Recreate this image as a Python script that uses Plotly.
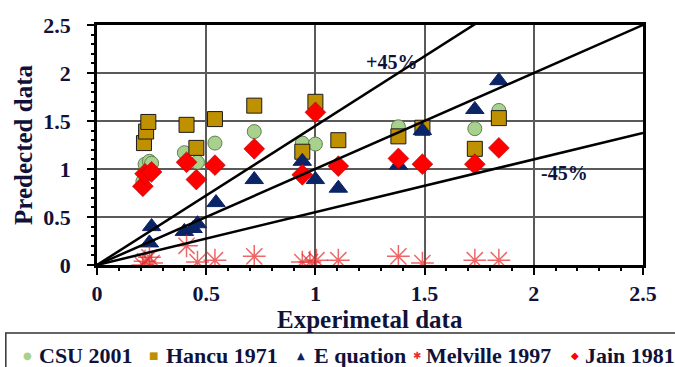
import plotly.graph_objects as go

# Measured (experimental) vs predicted values for each method
csu_x = [0.21, 0.22, 0.24, 0.25, 0.40, 0.46, 0.54, 0.72, 0.94, 1.00, 1.38, 1.73, 1.84]
csu_y = [0.87, 1.05, 1.08, 1.06, 1.17, 1.07, 1.27, 1.39, 1.27, 1.26, 1.44, 1.42, 1.61]

hancu_x = [0.215, 0.225, 0.235, 0.41, 0.455, 0.54, 0.72, 0.94, 1.00, 1.105, 1.38, 1.49, 1.73, 1.84]
hancu_y = [1.27, 1.39, 1.49, 1.46, 1.22, 1.52, 1.66, 1.18, 1.70, 1.30, 1.34, 1.43, 1.21, 1.53]

eq_x = [0.24, 0.25, 0.40, 0.44, 0.46, 0.545, 0.72, 0.94, 1.00, 1.105, 1.38, 1.49, 1.73, 1.84]
eq_y = [0.23, 0.40, 0.35, 0.38, 0.43, 0.65, 0.89, 1.08, 0.89, 0.80, 1.04, 1.40, 1.62, 1.92]

melville_x = [0.21, 0.22, 0.24, 0.25, 0.41, 0.46, 0.54, 0.72, 0.94, 0.975, 1.005, 1.105, 1.38, 1.49, 1.73, 1.84]
melville_y = [0.00, 0.04, 0.08, 0.02, 0.20, 0.03, 0.05, 0.09, 0.03, 0.03, 0.05, 0.05, 0.09, 0.02, 0.05, 0.05]

jain_x = [0.21, 0.22, 0.25, 0.41, 0.455, 0.54, 0.72, 0.94, 1.00, 1.105, 1.38, 1.49, 1.73, 1.84]
jain_y = [0.82, 0.95, 0.97, 1.07, 0.89, 1.04, 1.21, 0.94, 1.59, 1.03, 1.11, 1.05, 1.05, 1.22]

series_names = ["CSU 2001", "Hancu 1971", "E quation", "Melville 1997", "Jain 1981"]

# Reference lines: perfect agreement and the +/-45% envelope
ref_slopes = [1.0, 1.45, 0.55]
axis_max = 2.5

tick_vals = [0, 0.5, 1, 1.5, 2, 2.5]
tick_text = ["0", "0.5", "1", "1.5", "2", "2.5"]

FONT = "'Liberation Serif', 'Times New Roman', Tinos, 'DejaVu Serif', serif"
TXT = "#10123a"

fig = go.Figure()

styles = [
    dict(symbol="circle", size=14, color="#a9d18e", line=dict(color="#5f7f4f", width=1)),
    dict(symbol="square", size=15, color="#bf9000", line=dict(color="#1a1a1a", width=1)),
    dict(symbol="triangle-up", size=16, color="#0b2466", line=dict(color="#0b2466", width=1)),
    dict(symbol="asterisk-open", size=19, color="rgba(228,40,40,0.7)",
         line=dict(color="rgba(228,40,40,0.7)", width=1.5)),
    dict(symbol="diamond", size=16, color="#ff0000", line=dict(color="#b00000", width=0.6)),
]
data = [(csu_x, csu_y), (hancu_x, hancu_y), (eq_x, eq_y),
        (melville_x, melville_y), (jain_x, jain_y)]

for name, (xs, ys), mk in zip(series_names, data, styles):
    fig.add_trace(go.Scatter(x=xs, y=ys, mode="markers", name=name, marker=mk,
                             showlegend=False))

for s in ref_slopes:
    fig.add_trace(go.Scatter(
        x=[0, axis_max], y=[0, s * axis_max], mode="lines",
        line=dict(color="black", width=2.5), showlegend=False, hoverinfo="skip",
    ))

# darker vertical rule at x = 1
fig.add_shape(type="line", xref="x", yref="y", x0=1, x1=1, y0=0, y1=axis_max,
              line=dict(color="black", width=1.2), layer="below")

fig.add_annotation(x=1.35, y=2.11, text="<b>+45%</b>", showarrow=False,
                   font=dict(family=FONT, size=20, color=TXT))
fig.add_annotation(x=2.14, y=0.96, text="<b>-45%</b>", showarrow=False,
                   font=dict(family=FONT, size=20, color=TXT))

# x-axis title placed just under the tick labels
fig.add_annotation(xref="paper", yref="paper", x=0.5, y=-0.228,
                   xanchor="center", yanchor="middle", showarrow=False,
                   text="<b>Experimetal data</b>",
                   font=dict(family=FONT, size=25, color=TXT))

# Legend strip below the plot: box, small symbols and series names
legend_symbols = ["●", "■", "▲", "✱", "◆"]
legend_colors = ["#a9d18e", "#bf9000", "#0b2466", "#e83030", "#ff0000"]
legend_sym_x = [-0.127, 0.104, 0.374, 0.586, 0.876]
legend_txt_x = [-0.110, 0.122, 0.393, 0.599, 0.890]
legend_y = -0.375

fig.add_shape(type="rect", xref="paper", yref="paper",
              x0=-0.167, x1=1.08, y0=-0.283, y1=-0.46,
              line=dict(color="#333333", width=1.5), fillcolor="white", layer="above")

for sym, col, sx, tx, name in zip(legend_symbols, legend_colors, legend_sym_x,
                                  legend_txt_x, series_names):
    fig.add_annotation(xref="paper", yref="paper", x=sx, y=legend_y, text=sym,
                       showarrow=False, xanchor="center", yanchor="middle",
                       font=dict(family="DejaVu Sans", size=10, color=col))
    fig.add_annotation(xref="paper", yref="paper", x=tx, y=legend_y,
                       text=f"<b>{name}</b>", showarrow=False,
                       xanchor="left", yanchor="middle",
                       font=dict(family=FONT, size=22, color=TXT))

bold_ticks = [f"<b>{t}</b>" for t in tick_text]

axis_common = dict(
    range=[0, axis_max], tickvals=tick_vals, ticktext=bold_ticks,
    showgrid=True, gridcolor="#5a5a5a", gridwidth=1.6,
    showline=True, linecolor="black", linewidth=2.5, mirror=True,
    ticks="outside", ticklen=7, tickwidth=2, tickcolor="black",
    zeroline=False,
    tickfont=dict(family=FONT, size=22, color=TXT),
    minor=dict(dtick=0.1, ticks="outside", ticklen=3, tickwidth=1.5, tickcolor="black",
               showgrid=False),
)

fig.update_xaxes(**axis_common, ticklabelstandoff=0)
fig.update_yaxes(**axis_common, ticklabelstandoff=12,
                 title=dict(text="<b>Predected data</b>", standoff=4,
                            font=dict(family=FONT, size=25, color=TXT)))

fig.update_layout(
    width=675, height=367,
    margin=dict(l=97, r=32, t=25, b=102),
    paper_bgcolor="white", plot_bgcolor="white",
    font=dict(family=FONT, color=TXT),
    showlegend=False,
)

fig.write_html("out.html")
